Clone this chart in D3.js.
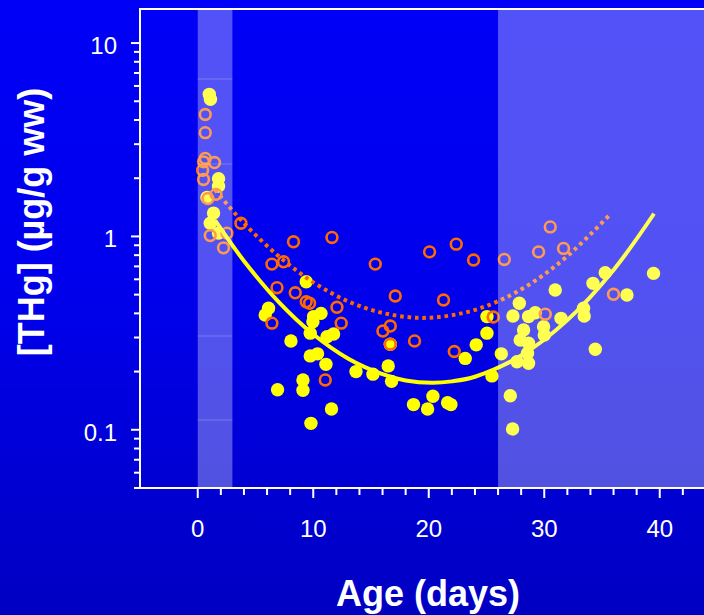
<!DOCTYPE html>
<html><head><meta charset="utf-8">
<script src="https://cdn.jsdelivr.net/npm/d3@7"></script>
<style>html,body{margin:0;padding:0;background:#0000d8;overflow:hidden}</style>
</head><body>
<svg id="c" width="704" height="615"></svg>
<script>
// ---------- data ----------
const yellowAge = [1.0,1.1,1.80,1.80,0.80,1.37,1.08,1.80,6.13,5.84,9.39,10.03,10.67,9.97,9.74,11.19,11.76,8.07,9.74,10.37,11.10,9.11,9.11,6.91,11.58,9.80,13.70,15.17,16.49,16.78,16.67,18.68,19.90,20.36,21.63,21.92,23.16,24.11,25.04,25.04,25.47,26.28,27.06,27.26,27.84,27.29,28.64,29.22,28.21,27.92,28.64,27.64,28.64,28.55,29.94,30.00,31.45,30.95,33.40,33.46,34.22,35.28,34.42,37.16,39.46];
const yellowTHg = [5.43,5.12,1.99,1.82,1.59,1.32,1.17,1.04,0.425,0.392,0.583,0.385,0.400,0.362,0.316,0.303,0.313,0.288,0.241,0.247,0.218,0.181,0.160,0.161,0.128,0.108,0.200,0.194,0.214,0.178,0.277,0.135,0.128,0.149,0.138,0.135,0.234,0.275,0.385,0.316,0.190,0.247,0.150,0.101,0.451,0.388,0.385,0.403,0.328,0.291,0.280,0.225,0.221,0.249,0.341,0.309,0.377,0.528,0.425,0.388,0.572,0.649,0.261,0.498,0.644];
const orangeAge = [0.65,0.65,0.65,0.50,1.45,0.42,0.50,0.88,1.58,1.08,2.53,2.23,3.74,8.29,11.62,6.42,7.43,15.37,6.86,8.44,9.39,9.68,12.05,12.42,6.42,17.10,20.07,22.38,23.88,21.28,16.03,16.67,18.77,16.67,22.21,11.04,26.54,29.51,30.52,31.67,30.09,25.58,36.0];
const orangeTHg = [4.27,3.44,2.53,2.43,2.41,2.20,1.97,1.57,1.65,1.01,1.04,0.873,1.17,0.938,0.988,0.719,0.739,0.719,0.543,0.511,0.459,0.451,0.430,0.356,0.356,0.492,0.832,0.912,0.755,0.469,0.324,0.344,0.288,0.277,0.254,0.181,0.760,0.832,1.12,0.867,0.396,0.383,0.502];
// fitted curves
const fitYellowAge = [1.5,4,7,10,13,16,18,20.3,22,24,28,32,36,39.5];
const fitYellowTHg = [1.21,0.747,0.459,0.312,0.234,0.194,0.180,0.175,0.178,0.188,0.242,0.369,0.671,1.31];
const fitOrangeAge = [1.5,4,7,10,13,16,19.5,23,26,29,32,35.6];
const fitOrangeTHg = [1.74,1.17,0.791,0.579,0.462,0.402,0.379,0.402,0.462,0.579,0.791,1.28];
const xTicks = [0,10,20,30,40];
const xMinorTicks = [2,4,6,8,12,14,16,18,22,24,26,28,32,34,36,38,42,44];
const yTicks = [0.1,1,10];
const yTickLabels = ["0.1","1","10"];
const yMinorTicks = [0.05,0.06,0.07,0.08,0.09,0.2,0.3,0.4,0.5,0.6,0.7,0.8,0.9,2,3,4,5,6,7,8,9];
const bands = [[0,3],[26,45]];
const xTitle = "Age (days)";
const yTitle = "[THg] (µg/g ww)";

// ---------- drawing ----------
const W = 704, H = 615;
const L = 140, T = 9, B = 488, R = 717.5;
const font = "'Liberation Sans', Arial, Helvetica, sans-serif";
const svg = d3.select("#c");

const defs = svg.append("defs");
const grad = defs.append("linearGradient").attr("id","bg").attr("x1",0).attr("y1",0).attr("x2",0).attr("y2",1);
grad.append("stop").attr("offset","0%").attr("stop-color","#0000f6");
grad.append("stop").attr("offset","45%").attr("stop-color","#0000ee");
grad.append("stop").attr("offset","100%").attr("stop-color","#0000c2");
defs.append("clipPath").attr("id","plotclip").append("rect")
  .attr("x",L).attr("y",T).attr("width",R-L).attr("height",B-T);

svg.append("rect").attr("width",W).attr("height",H).attr("fill","url(#bg)");

const x = d3.scaleLinear().domain([-5,45]).range([L,R]);
const y = d3.scaleLog().domain([0.05,15]).range([B,T]);

const plot = svg.append("g").attr("clip-path","url(#plotclip)");

// yellow filled dots
plot.append("g").selectAll("circle").data(yellowAge.map((a,i)=>[a,yellowTHg[i]]))
  .join("circle").attr("cx",d=>x(d[0])).attr("cy",d=>y(d[1])).attr("r",6.7)
  .attr("fill","#ffff00");

// orange open circles
plot.append("g").selectAll("circle").data(orangeAge.map((a,i)=>[a,orangeTHg[i]]))
  .join("circle").attr("cx",d=>x(d[0])).attr("cy",d=>y(d[1])).attr("r",5.4)
  .attr("fill","none").attr("stroke","#ff6a00").attr("stroke-width",2.6);

const line = d3.line().x(d=>x(d[0])).y(d=>y(d[1])).curve(d3.curveCatmullRom.alpha(0.5));
plot.append("path").datum(fitYellowAge.map((a,i)=>[a,fitYellowTHg[i]]))
  .attr("d",line).attr("fill","none").attr("stroke","#ffff00").attr("stroke-width",4);
plot.append("path").datum(fitOrangeAge.map((a,i)=>[a,fitOrangeTHg[i]]))
  .attr("d",line).attr("fill","none").attr("stroke","#ff6a00").attr("stroke-width",4)
  .attr("stroke-dasharray","3.6 3.8");

// translucent bands on top
const bandG = plot.append("g");
bandG.selectAll("rect").data(bands).join("rect")
  .attr("x",d=>x(d[0])).attr("y",T).attr("width",d=>x(d[1])-x(d[0])).attr("height",B-T)
  .attr("fill","#ffffff").attr("fill-opacity",0.32);
// faint tile seams in the first band
[79,164,336,420].forEach(py=>{
  bandG.append("line").attr("x1",x(bands[0][0])).attr("x2",x(bands[0][1]))
    .attr("y1",py).attr("y2",py).attr("stroke","#ffffff").attr("stroke-opacity",0.22).attr("stroke-width",1);
});

// frame lines (left & top)
svg.append("line").attr("x1",L).attr("x2",W).attr("y1",T).attr("y2",T)
  .attr("stroke","#fff").attr("stroke-width",2);

// Y axis
const yAxis = svg.append("g");
yAxis.append("line").attr("x1",L).attr("x2",L).attr("y1",T-1).attr("y2",B+1)
  .attr("stroke","#fff").attr("stroke-width",2);
yAxis.selectAll("line.maj").data(yTicks).join("line").attr("class","maj")
  .attr("x1",L-9).attr("x2",L).attr("y1",d=>y(d)).attr("y2",d=>y(d))
  .attr("stroke","#fff").attr("stroke-width",2);
yAxis.selectAll("line.min").data(yMinorTicks).join("line").attr("class","min")
  .attr("x1",L-6).attr("x2",L).attr("y1",d=>y(d)).attr("y2",d=>y(d))
  .attr("stroke","#fff").attr("stroke-width",2);
yAxis.selectAll("text").data(yTicks).join("text")
  .attr("x",117).attr("y",d=>y(d)+11).attr("text-anchor","end")
  .attr("fill","#fff").attr("font-family",font).attr("font-size",24)
  .text((d,i)=>yTickLabels[i]);

// X axis
const xAxis = svg.append("g");
xAxis.append("line").attr("x1",L-1).attr("x2",W).attr("y1",B).attr("y2",B)
  .attr("stroke","#fff").attr("stroke-width",2);
xAxis.selectAll("line.maj").data(xTicks).join("line").attr("class","maj")
  .attr("x1",d=>x(d)).attr("x2",d=>x(d)).attr("y1",B).attr("y2",B+10)
  .attr("stroke","#fff").attr("stroke-width",2);
xAxis.selectAll("line.min").data(xMinorTicks).join("line").attr("class","min")
  .attr("x1",d=>x(d)).attr("x2",d=>x(d)).attr("y1",B).attr("y2",B+7)
  .attr("stroke","#fff").attr("stroke-width",2);
xAxis.selectAll("text").data(xTicks).join("text")
  .attr("x",d=>x(d)).attr("y",537).attr("text-anchor","middle")
  .attr("fill","#fff").attr("font-family",font).attr("font-size",24)
  .text(d=>d);

// titles
svg.append("text").attr("x",428).attr("y",606).attr("text-anchor","middle")
  .attr("fill","#fff").attr("font-family",font).attr("font-size",36).attr("font-weight","bold")
  .text(xTitle);
svg.append("text").attr("transform","translate(44,222) rotate(-90)").attr("text-anchor","middle")
  .attr("fill","#fff").attr("font-family",font).attr("font-size",36).attr("font-weight","bold")
  .text(yTitle);
</script>
</body></html>
